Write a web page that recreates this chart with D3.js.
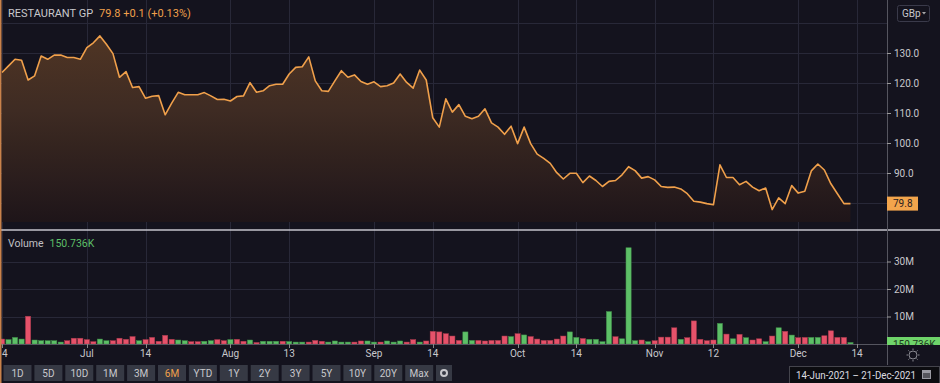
<!DOCTYPE html>
<html>
<head>
<meta charset="utf-8">
<style>
  body { margin: 0; background: #14131e; }
  svg { display: block; font-family: Roboto, "Liberation Sans", sans-serif; }
</style>
<script src="https://d3js.org/d3.v7.min.js"></script>
</head>
<body>
<svg id="chart" width="940" height="383"></svg>
<script>
// daily closes, 14-Jun-2021 .. 14-Dec-2021 (one per weekday)
var prices = [
  123.5, 125.7, 127.9, 127.6, 121.0, 122.4, 129.0, 127.9, 129.3, 129.3,
  128.5, 128.5, 127.9, 131.8, 133.4, 135.7, 132.9, 129.8, 121.9, 123.8,
  118.5, 118.8, 114.9, 115.6, 115.8, 109.4, 113.3, 116.9, 116.1, 116.1,
  116.1, 116.8, 115.7, 114.5, 114.6, 114.0, 115.5, 115.7, 120.1, 116.9,
  117.4, 119.1, 119.6, 119.6, 123.0, 125.2, 125.4, 128.7, 120.7, 117.4,
  117.2, 120.7, 124.1, 121.9, 122.7, 120.5, 119.6, 120.4, 118.8, 119.1,
  120.0, 123.0, 120.2, 118.3, 124.3, 121.0, 108.4, 105.3, 114.7, 110.3,
  112.8, 108.9, 108.1, 108.9, 111.4, 106.7, 105.3, 102.9, 105.6, 99.8,
  105.3, 99.8, 96.3, 94.9, 93.2, 90.1, 88.0, 89.9, 89.9, 86.8,
  89.0, 87.5, 85.5, 87.2, 87.5, 89.4, 92.1, 90.8, 88.3, 88.8,
  87.7, 85.5, 85.2, 85.3, 84.7, 83.1, 80.6, 80.3, 79.8, 79.4,
  92.7, 88.5, 88.5, 86.1, 87.2, 85.3, 84.1, 85.0, 77.8, 81.7,
  79.8, 85.8, 83.3, 83.9, 90.7, 93.0, 91.0, 86.4, 83.1, 79.8,
  79.8
];

// volume in millions
var volumes = [
  1.8, 1.6, 2.4, 1.8, 10.1, 1.45, 1.2, 1.2, 1.2, 0.7,
  1.2, 2.1, 2.1, 1.6, 0.85, 1.8, 1.2, 1.2, 2.1, 1.7,
  2.7, 1.2, 1.6, 2.4, 1.0, 3.15, 1.7, 1.45, 1.2, 0.85,
  0.85, 1.0, 1.2, 1.6, 1.2, 1.6, 1.7, 1.0, 1.45, 0.5,
  1.0, 1.0, 1.0, 1.0, 0.9, 0.7, 0.7, 0.7, 1.3, 1.0,
  0.7, 1.1, 0.7, 0.7, 0.7, 1.1, 1.1, 0.7, 0.7, 1.1,
  0.7, 1.1, 0.7, 1.6, 0.7, 1.1, 4.6, 4.4, 3.75, 2.9,
  1.3, 4.4, 1.3, 1.3, 1.1, 1.3, 1.3, 2.9, 2.7, 3.75,
  3.3, 2.7, 1.8, 1.3, 1.3, 1.8, 2.9, 4.4, 2.4, 2.0,
  1.7, 1.7, 0.85, 11.8, 2.65, 1.9, 35.0, 1.2, 1.45, 0.85,
  1.2, 2.5, 2.5, 5.9, 1.7, 2.3, 8.4, 1.7, 1.2, 1.45,
  7.5, 3.6, 1.9, 3.5, 2.3, 1.45, 1.9, 0.85, 2.9, 5.9,
  4.6, 3.25, 2.3, 2.4, 2.4, 2.4, 3.0, 4.8, 2.4, 2.4,
  0.151
];

// u = up day (green), d = down day (red)
var volDir = (
  "dgggdggggg" + "dddddggddd" + "dgdddddggd" + "dggddgddgd" +
  "gggdgggddd" + "ggggddggdg" + "ggddgddddd" + "dggdddddgd" +
  "gddddddggd" + "ggggdgggdg" + "ddddgddddd" + "gdgdgddgdg" +
  "dgddggdddd" + "g").split("").map(function(c) { return c === "g" ? "u" : "d"; });

var tickDates = ["2021-06-14", "2021-07-01", "2021-07-14", "2021-08-02", "2021-08-13", "2021-09-01",
                 "2021-09-14", "2021-10-01", "2021-10-14", "2021-11-01", "2021-11-12", "2021-12-01", "2021-12-14"];
var tickLabels = ["14", "Jul", "14", "Aug", "13", "Sep", "14", "Oct", "14", "Nov", "12", "Dec", "14"];

var priceTicks = [90, 100, 110, 120, 130];
var priceGrid = [80, 90, 100, 110, 120, 130, 140];
var volTicks = [10, 20, 30];
var ranges = ["1D", "5D", "10D", "1M", "3M", "6M", "YTD", "1Y", "2Y", "3Y", "5Y", "10Y", "20Y", "Max"];

// trading days (weekdays) of the period
var fmt = d3.timeFormat("%Y-%m-%d");
var days = d3.timeDay.range(new Date(2021, 5, 14), new Date(2021, 11, 15))
  .filter(function(d) { return d.getDay() % 6 !== 0; })
  .map(fmt);

var svg = d3.select("#chart");
var W = 940, axisX = 887;
var priceBottom = 222, sepY = 230, volBase = 344;

var x = d3.scaleLinear().domain([0, days.length - 1]).range([2, 857]);
var yP = d3.scaleLinear().domain([80, 130]).range([203, 53]);
var yV = d3.scaleLinear().domain([0, 30]).range([volBase, 261.5]);

var orange = "#f0a04b", green = "#5dbf67", red = "#e6526a";

svg.append("rect").attr("width", W).attr("height", 383).attr("fill", "#14131e");

// gradient for price area
var defs = svg.append("defs");
var grad = defs.append("linearGradient").attr("id", "pg")
  .attr("gradientUnits", "userSpaceOnUse").attr("x1", 0).attr("x2", 0).attr("y1", 20).attr("y2", priceBottom);
[[0, "#533724"], [0.45, "#3e2b23"], [0.62, "#34241f"], [0.8, "#2a1d1d"], [1, "#1e1519"]].forEach(function(s) {
  grad.append("stop").attr("offset", s[0]).attr("stop-color", s[1]);
});
defs.append("clipPath").attr("id", "vclip").append("rect")
  .attr("x", axisX).attr("y", sepY).attr("width", W - axisX).attr("height", volBase + 1 - sepY);

var tickIdx = tickDates.map(function(d) { return days.indexOf(d); });

// grid lines
var grid = svg.append("g").attr("stroke", "#282838").attr("stroke-width", 1);
grid.selectAll(".hp").data(priceGrid).enter().append("line")
  .attr("x1", 0).attr("x2", axisX).attr("y1", function(d) { return Math.round(yP(d)) + 0.5; })
  .attr("y2", function(d) { return Math.round(yP(d)) + 0.5; });
grid.selectAll(".hv").data(volTicks).enter().append("line")
  .attr("x1", 0).attr("x2", axisX).attr("y1", function(d) { return Math.round(yV(d)) + 0.5; })
  .attr("y2", function(d) { return Math.round(yV(d)) + 0.5; });
grid.selectAll(".v").data(tickIdx).enter().append("line")
  .attr("x1", function(d) { return Math.round(x(d)) + 0.5; })
  .attr("x2", function(d) { return Math.round(x(d)) + 0.5; })
  .attr("y1", 0).attr("y2", volBase);

// price area + line
var area = d3.area()
  .x(function(d, i) { return x(i); })
  .y0(priceBottom)
  .y1(function(d) { return yP(d); });
var line = d3.line()
  .x(function(d, i) { return x(i); })
  .y(function(d) { return yP(d); });

svg.append("path").datum(prices).attr("d", area).attr("fill", "url(#pg)");
svg.append("path").datum(prices).attr("d", line)
  .attr("fill", "none").attr("stroke", orange).attr("stroke-width", 1.6).attr("stroke-linejoin", "round");

// volume bars
svg.append("g").selectAll("rect").data(volumes).enter().append("rect")
  .attr("x", function(d, i) { return x(i) - 2.6; })
  .attr("width", 5.2)
  .attr("y", function(d) { return Math.min(yV(d), volBase - 1.5); })
  .attr("height", function(d) { return Math.max(volBase - yV(d), 1.5); })
  .attr("fill", function(d, i) { return volDir[i] === "u" ? green : red; })
  .attr("stroke", function(d, i) { return volDir[i] === "u" ? "#3f8c48" : "#a83a4c"; })
  .attr("stroke-width", 0.5);

// separator between panels
svg.append("line").attr("x1", 0).attr("x2", W).attr("y1", sepY).attr("y2", sepY)
  .attr("stroke", "#c4c4cc").attr("stroke-width", 1.5);

// x axis
svg.append("line").attr("x1", 0).attr("x2", axisX).attr("y1", volBase + 0.5).attr("y2", volBase + 0.5)
  .attr("stroke", "#55555f");
var xAxis = svg.append("g").attr("font-size", 10).attr("fill", "#c8c8cc");
xAxis.selectAll("line").data(tickIdx).enter().append("line")
  .attr("x1", function(d) { return Math.round(x(d)) + 0.5; })
  .attr("x2", function(d) { return Math.round(x(d)) + 0.5; })
  .attr("y1", volBase).attr("y2", volBase + 4).attr("stroke", "#888");
xAxis.selectAll("text").data(tickIdx).enter().append("text")
  .attr("x", function(d) { return x(d); }).attr("y", 357)
  .attr("text-anchor", "middle")
  .text(function(d, i) { return tickLabels[i]; });

// right axes
svg.append("line").attr("x1", axisX + 0.5).attr("x2", axisX + 0.5).attr("y1", 0).attr("y2", 365)
  .attr("stroke", "#55555f");
svg.append("g").attr("transform", "translate(" + axisX + ",0)")
  .call(d3.axisRight(yP).tickValues(priceTicks).tickFormat(d3.format(".1f")).tickSize(4).tickPadding(3))
  .call(function(g) {
    g.select(".domain").remove();
    g.selectAll("line").attr("stroke", "#999");
    g.selectAll("text").attr("fill", "#c8c8cc").attr("font-size", 10).attr("font-family", "Roboto, sans-serif");
  });
svg.append("g").attr("transform", "translate(" + axisX + ",0)")
  .call(d3.axisRight(yV).tickValues(volTicks).tickFormat(function(d) { return d + "M"; }).tickSize(4).tickPadding(3))
  .call(function(g) {
    g.select(".domain").remove();
    g.selectAll("line").attr("stroke", "#999");
    g.selectAll("text").attr("fill", "#c8c8cc").attr("font-size", 10).attr("font-family", "Roboto, sans-serif");
  });

// last price label
var last = prices[prices.length - 1];
svg.append("rect").attr("x", axisX).attr("y", yP(last) - 7).attr("width", 31).attr("height", 14)
  .attr("fill", "#f3a54c");
svg.append("text").attr("x", axisX + 6).attr("y", yP(last) + 3.5).attr("font-size", 10)
  .attr("fill", "#2a2020").text(d3.format(".1f")(last));

// last volume label (clipped by axis)
var vl = svg.append("g").attr("clip-path", "url(#vclip)");
vl.append("rect").attr("x", axisX).attr("y", 337).attr("width", W - axisX).attr("height", 14).attr("fill", "#6fd46a");
vl.append("text").attr("x", axisX + 6).attr("y", 347.5).attr("font-size", 10).attr("fill", "#1d3a1d").text("150.736K");

// GBp selector
svg.append("rect").attr("x", 897.5).attr("y", 5.5).attr("width", 32).attr("height", 16).attr("rx", 2)
  .attr("fill", "none").attr("stroke", "#3a3a4a");
svg.append("text").attr("x", 902).attr("y", 17).attr("font-size", 10).attr("fill", "#c8c8cc").text("GBp");
svg.append("path").attr("d", "M922,12 l4,0 l-2,2.5 z").attr("fill", "#aaa");

// titles
var t = svg.append("text").attr("x", 8).attr("y", 17).attr("font-size", 11);
t.append("tspan").attr("fill", "#c8c8cc").text("RESTAURANT GP");
t.append("tspan").attr("fill", orange).attr("dx", 6).text("79.8  +0.1 (+0.13%)");
var v = svg.append("text").attr("x", 8).attr("y", 247).attr("font-size", 10.5);
v.append("tspan").attr("fill", "#c0c0c4").text("Volume");
v.append("tspan").attr("fill", "#5dbf67").attr("dx", 6).text("150.736K");

// left edge accent
svg.append("rect").attr("x", 0).attr("y", 0).attr("width", 1.5).attr("height", 383).attr("fill", "#c9824a");

// settings icon
var gear = svg.append("g").attr("transform", "translate(913,355)").attr("stroke", "#8a8a92").attr("fill", "none");
gear.append("circle").attr("r", 4);
d3.range(8).forEach(function(k) {
  var a = k * Math.PI / 4;
  gear.append("line").attr("x1", Math.cos(a) * 5).attr("y1", Math.sin(a) * 5)
    .attr("x2", Math.cos(a) * 6.5).attr("y2", Math.sin(a) * 6.5);
});

// range buttons
var btn = svg.append("g").selectAll("g").data(ranges).enter().append("g")
  .attr("transform", function(d, i) { return "translate(" + (3.5 + i * 30.9) + ",365)"; });
btn.append("rect").attr("width", 28).attr("height", 16).attr("fill", "#363944");
btn.append("text").attr("x", 14).attr("y", 12).attr("text-anchor", "middle").attr("font-size", 10)
  .attr("fill", function(d) { return d === "6M" ? orange : "#c8c8cc"; })
  .text(function(d) { return d; });
var gb = svg.append("g").attr("transform", "translate(436,365)");
gb.append("rect").attr("width", 16).attr("height", 16).attr("fill", "#363944");
gb.append("circle").attr("cx", 8).attr("cy", 8).attr("r", 3).attr("fill", "none").attr("stroke", "#c8c8cc").attr("stroke-width", 2);

// date range box
svg.append("rect").attr("x", 789.5).attr("y", 366.5).attr("width", 150).attr("height", 17)
  .attr("fill", "#0c0c10").attr("stroke", "#44444c");
svg.append("text").attr("x", 796).attr("y", 379).attr("font-size", 10)
  .attr("textLength", 120).attr("lengthAdjust", "spacingAndGlyphs").attr("fill", "#dcdce0")
  .text("14-Jun-2021  \u2013  21-Dec-2021");
var cal = svg.append("g").attr("transform", "translate(922,370)");
cal.append("rect").attr("width", 9).attr("height", 9).attr("fill", "#9a9aa2");
cal.append("rect").attr("x", 1).attr("y", 3).attr("width", 7).attr("height", 5).attr("fill", "#55555c");
</script>
</body>
</html>
